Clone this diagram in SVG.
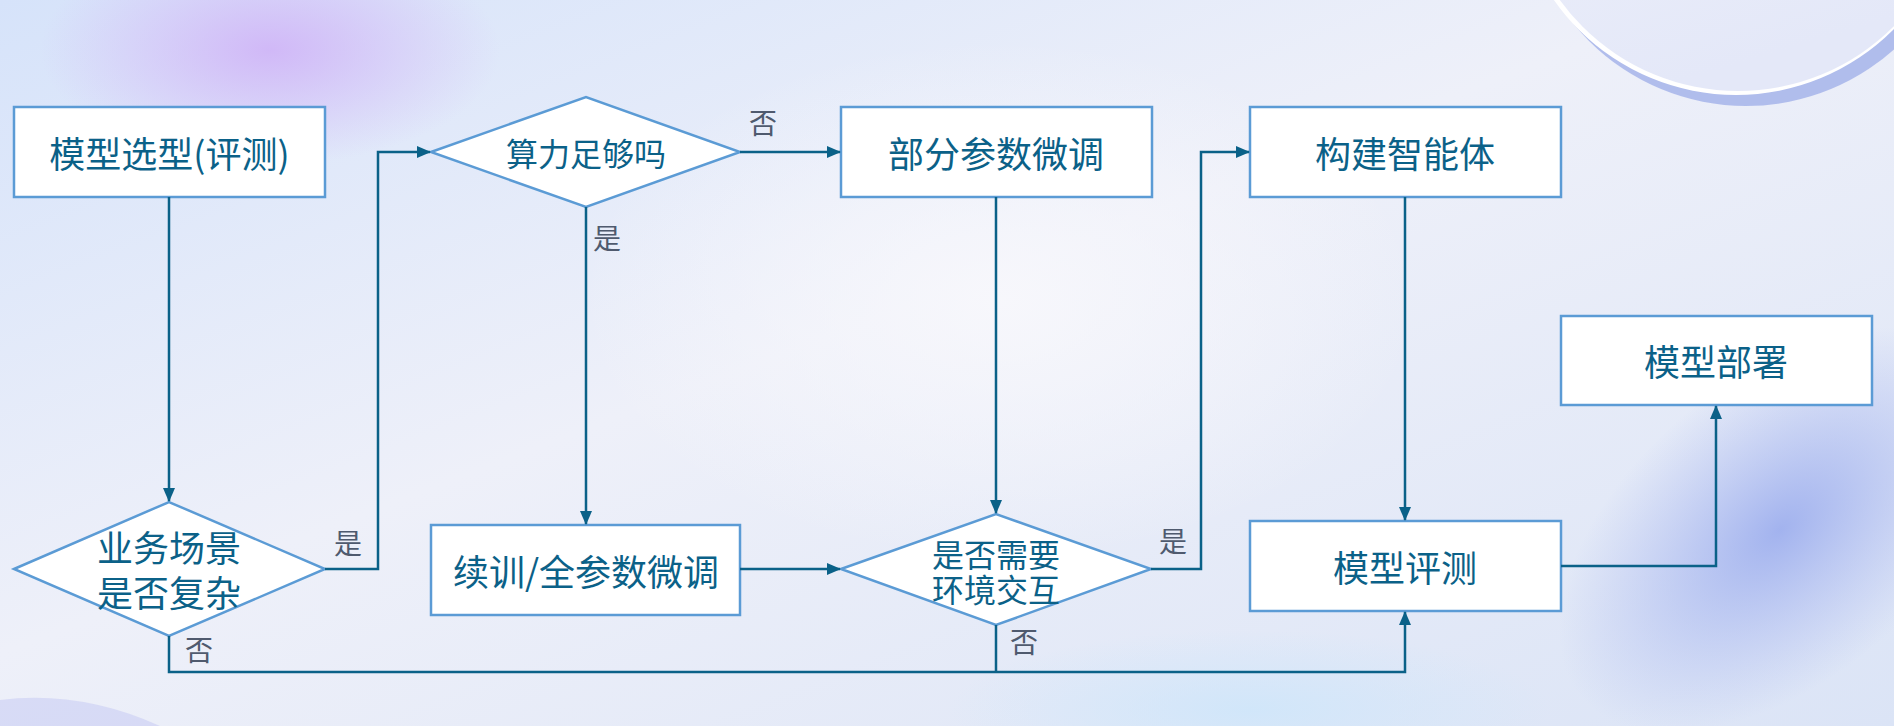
<svg xmlns="http://www.w3.org/2000/svg" width="1894" height="726" viewBox="0 0 1894 726">
<defs>
<linearGradient id="bg" x1="0" y1="0" x2="1" y2="1">
<stop offset="0" stop-color="#d6e3fa"/>
<stop offset="0.45" stop-color="#eef0f9"/>
<stop offset="1" stop-color="#dbe4f6"/>
</linearGradient>
<radialGradient id="purp" cx="0.5" cy="0.5" r="0.5">
<stop offset="0" stop-color="#d0b6f7" stop-opacity="0.95"/>
<stop offset="1" stop-color="#d2b8f7" stop-opacity="0"/>
</radialGradient>
<radialGradient id="blu" cx="0.5" cy="0.5" r="0.5">
<stop offset="0" stop-color="#9fb0ee" stop-opacity="0.95"/>
<stop offset="1" stop-color="#aab8f0" stop-opacity="0"/>
</radialGradient>
<radialGradient id="cyan" cx="0.5" cy="0.5" r="0.5">
<stop offset="0" stop-color="#cfe6fa" stop-opacity="0.9"/>
<stop offset="1" stop-color="#cfe6fa" stop-opacity="0"/>
</radialGradient>
<radialGradient id="white" cx="0.5" cy="0.5" r="0.5">
<stop offset="0" stop-color="#f8f8fc" stop-opacity="0.9"/>
<stop offset="1" stop-color="#f8f8fc" stop-opacity="0"/>
</radialGradient>
<linearGradient id="orb" x1="0" y1="0" x2="0.3" y2="1">
<stop offset="0" stop-color="#f2f4fb"/>
<stop offset="1" stop-color="#e4e8f8"/>
</linearGradient>
<marker id="arr" markerUnits="userSpaceOnUse" markerWidth="14" markerHeight="12" refX="13" refY="6" orient="auto">
<path d="M0,0 L14,6 L0,12 Z" fill="#0a6188"/>
</marker>
<style>
.box{fill:#ffffff;stroke:#5b9bd5;stroke-width:2.5}
.t{font-family:"Noto Sans CJK SC","Microsoft YaHei",sans-serif;fill:#0b6188;text-anchor:middle;dominant-baseline:central}
.big{font-size:36px}
.mid{font-size:32px}
.lbl{font-family:"Noto Sans CJK SC",sans-serif;font-size:28px;fill:#4f5a6e;text-anchor:middle;dominant-baseline:central}
.c{fill:none;stroke:#0a6188;stroke-width:2.5}
</style>
</defs>
<rect width="1894" height="726" fill="url(#bg)"/>
<ellipse cx="270" cy="50" rx="230" ry="115" fill="url(#purp)"/>
<ellipse cx="1000" cy="300" rx="420" ry="260" fill="url(#white)"/>
<ellipse cx="1780" cy="530" rx="150" ry="260" transform="rotate(50 1780 530)" fill="url(#blu)"/>
<ellipse cx="1250" cy="710" rx="300" ry="80" fill="url(#cyan)"/>
<path d="M0,700 Q80,690 160,726 L0,726 Z" fill="#c9cdf3" opacity="0.6"/>
<circle cx="1746" cy="-116" r="222" fill="#a6b4ea" opacity="0.85"/>
<circle cx="1736" cy="-127" r="222" fill="#ffffff"/>
<circle cx="1738" cy="-129" r="220" fill="url(#orb)"/>
<g id="n1"><rect class="box" x="14" y="107" width="311" height="90"/><text class="t big" x="169.5" y="152">模型选型(评测)</text></g>
<g id="n2"><polygon class="box" points="431,152 586,97 740,152 586,207"/><text class="t mid" x="586" y="152">算力足够吗</text></g>
<g id="n3"><rect class="box" x="841" y="107" width="311" height="90"/><text class="t big" x="996" y="152">部分参数微调</text></g>
<g id="n4"><rect class="box" x="1250" y="107" width="311" height="90"/><text class="t big" x="1405" y="152">构建智能体</text></g>
<g id="n5"><rect class="box" x="1561" y="316" width="311" height="89"/><text class="t big" x="1716" y="360">模型部署</text></g>
<g id="n6"><polygon class="box" points="14,569 169,502 325,569 169,636"/><text class="t big" x="169" y="546"><tspan x="169" y="546">业务场景</tspan><tspan x="169" y="591">是否复杂</tspan></text></g>
<g id="n7"><rect class="box" x="431" y="525" width="309" height="90"/><text class="t big" x="586" y="570">续训/全参数微调</text></g>
<g id="n8"><polygon class="box" points="841,569 996,514 1151,569 996,625"/><text class="t mid" x="996" y="553"><tspan x="996" y="553">是否需要</tspan><tspan x="996" y="588">环境交互</tspan></text></g>
<g id="n9"><rect class="box" x="1250" y="521" width="311" height="90"/><text class="t big" x="1405" y="566">模型评测</text></g>
<g id="connectors">
<line class="c" x1="169" y1="197" x2="169" y2="501" marker-end="url(#arr)"/>
<polyline class="c" points="325,569 378,569 378,152 430,152" marker-end="url(#arr)"/>
<line class="c" x1="740" y1="152" x2="840" y2="152" marker-end="url(#arr)"/>
<line class="c" x1="586" y1="207" x2="586" y2="524" marker-end="url(#arr)"/>
<line class="c" x1="996" y1="197" x2="996" y2="513" marker-end="url(#arr)"/>
<line class="c" x1="740" y1="569" x2="840" y2="569" marker-end="url(#arr)"/>
<polyline class="c" points="1151,569 1201,569 1201,152 1249,152" marker-end="url(#arr)"/>
<line class="c" x1="1405" y1="197" x2="1405" y2="520" marker-end="url(#arr)"/>
<polyline class="c" points="169,636 169,672 1405,672 1405,612" marker-end="url(#arr)"/>
<line class="c" x1="996" y1="625" x2="996" y2="672"/>
<polyline class="c" points="1561,566 1716,566 1716,406" marker-end="url(#arr)"/>
<text class="lbl" x="763" y="122">否</text>
<text class="lbl" x="607" y="237">是</text>
<text class="lbl" x="348" y="542">是</text>
<text class="lbl" x="199" y="649">否</text>
<text class="lbl" x="1173" y="540">是</text>
<text class="lbl" x="1024" y="641">否</text>
</g>
</svg>
